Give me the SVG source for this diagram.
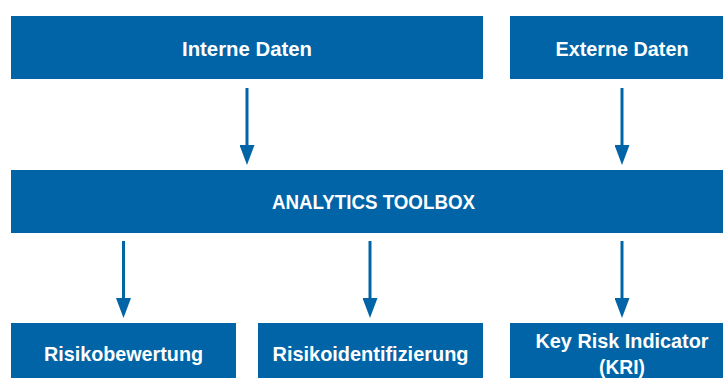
<svg xmlns="http://www.w3.org/2000/svg" width="723" height="378" viewBox="0 0 723 378">
<style>
.box{fill:#0064A7}
.t{fill:#fff;font-family:"Liberation Sans",Arial,sans-serif;font-weight:bold;font-size:21px;text-anchor:middle}
.c{stroke:#0064A7;stroke-width:3;fill:none}
</style>
<defs>
<marker id="ah" markerUnits="userSpaceOnUse" markerWidth="20" markerHeight="15" refX="15" refY="7.5" orient="auto" viewBox="0 0 20 15">
<path d="M0,0 L20,7.5 L0,15 Z" fill="#0064A7"/>
</marker>
</defs>
<rect width="723" height="378" fill="#fff"/>
<g id="interne"><rect class="box" x="11" y="16" width="472" height="63"/><text class="t" x="247" y="56" textLength="130" lengthAdjust="spacingAndGlyphs">Interne Daten</text></g>
<g id="externe"><rect class="box" x="510" y="16" width="225" height="63"/><text class="t" x="622" y="56" textLength="133" lengthAdjust="spacingAndGlyphs">Externe Daten</text></g>
<g id="toolbox"><rect class="box" x="11" y="170" width="724" height="63"/><text class="t" x="373.5" y="209" textLength="203" lengthAdjust="spacingAndGlyphs">ANALYTICS TOOLBOX</text></g>
<g id="risikobewertung"><rect class="box" x="11" y="323" width="225" height="60"/><text class="t" x="123.5" y="361" textLength="159" lengthAdjust="spacingAndGlyphs">Risikobewertung</text></g>
<g id="risikoidentifizierung"><rect class="box" x="258" y="323" width="225" height="60"/><text class="t" x="370.5" y="361" textLength="196" lengthAdjust="spacingAndGlyphs">Risikoidentifizierung</text></g>
<g id="kri"><rect class="box" x="510" y="323" width="225" height="60"/><text class="t" x="622" y="348" textLength="173" lengthAdjust="spacingAndGlyphs">Key Risk Indicator</text><text class="t" x="622" y="374" textLength="46" lengthAdjust="spacingAndGlyphs">(KRI)</text></g>
<g id="connectors">
<line class="c" x1="247" y1="88" x2="247" y2="160" marker-end="url(#ah)"/>
<line class="c" x1="622" y1="88" x2="622" y2="160" marker-end="url(#ah)"/>
<line class="c" x1="123.5" y1="241" x2="123.5" y2="313" marker-end="url(#ah)"/>
<line class="c" x1="370" y1="241" x2="370" y2="313" marker-end="url(#ah)"/>
<line class="c" x1="622" y1="241" x2="622" y2="313" marker-end="url(#ah)"/>
</g>
</svg>
